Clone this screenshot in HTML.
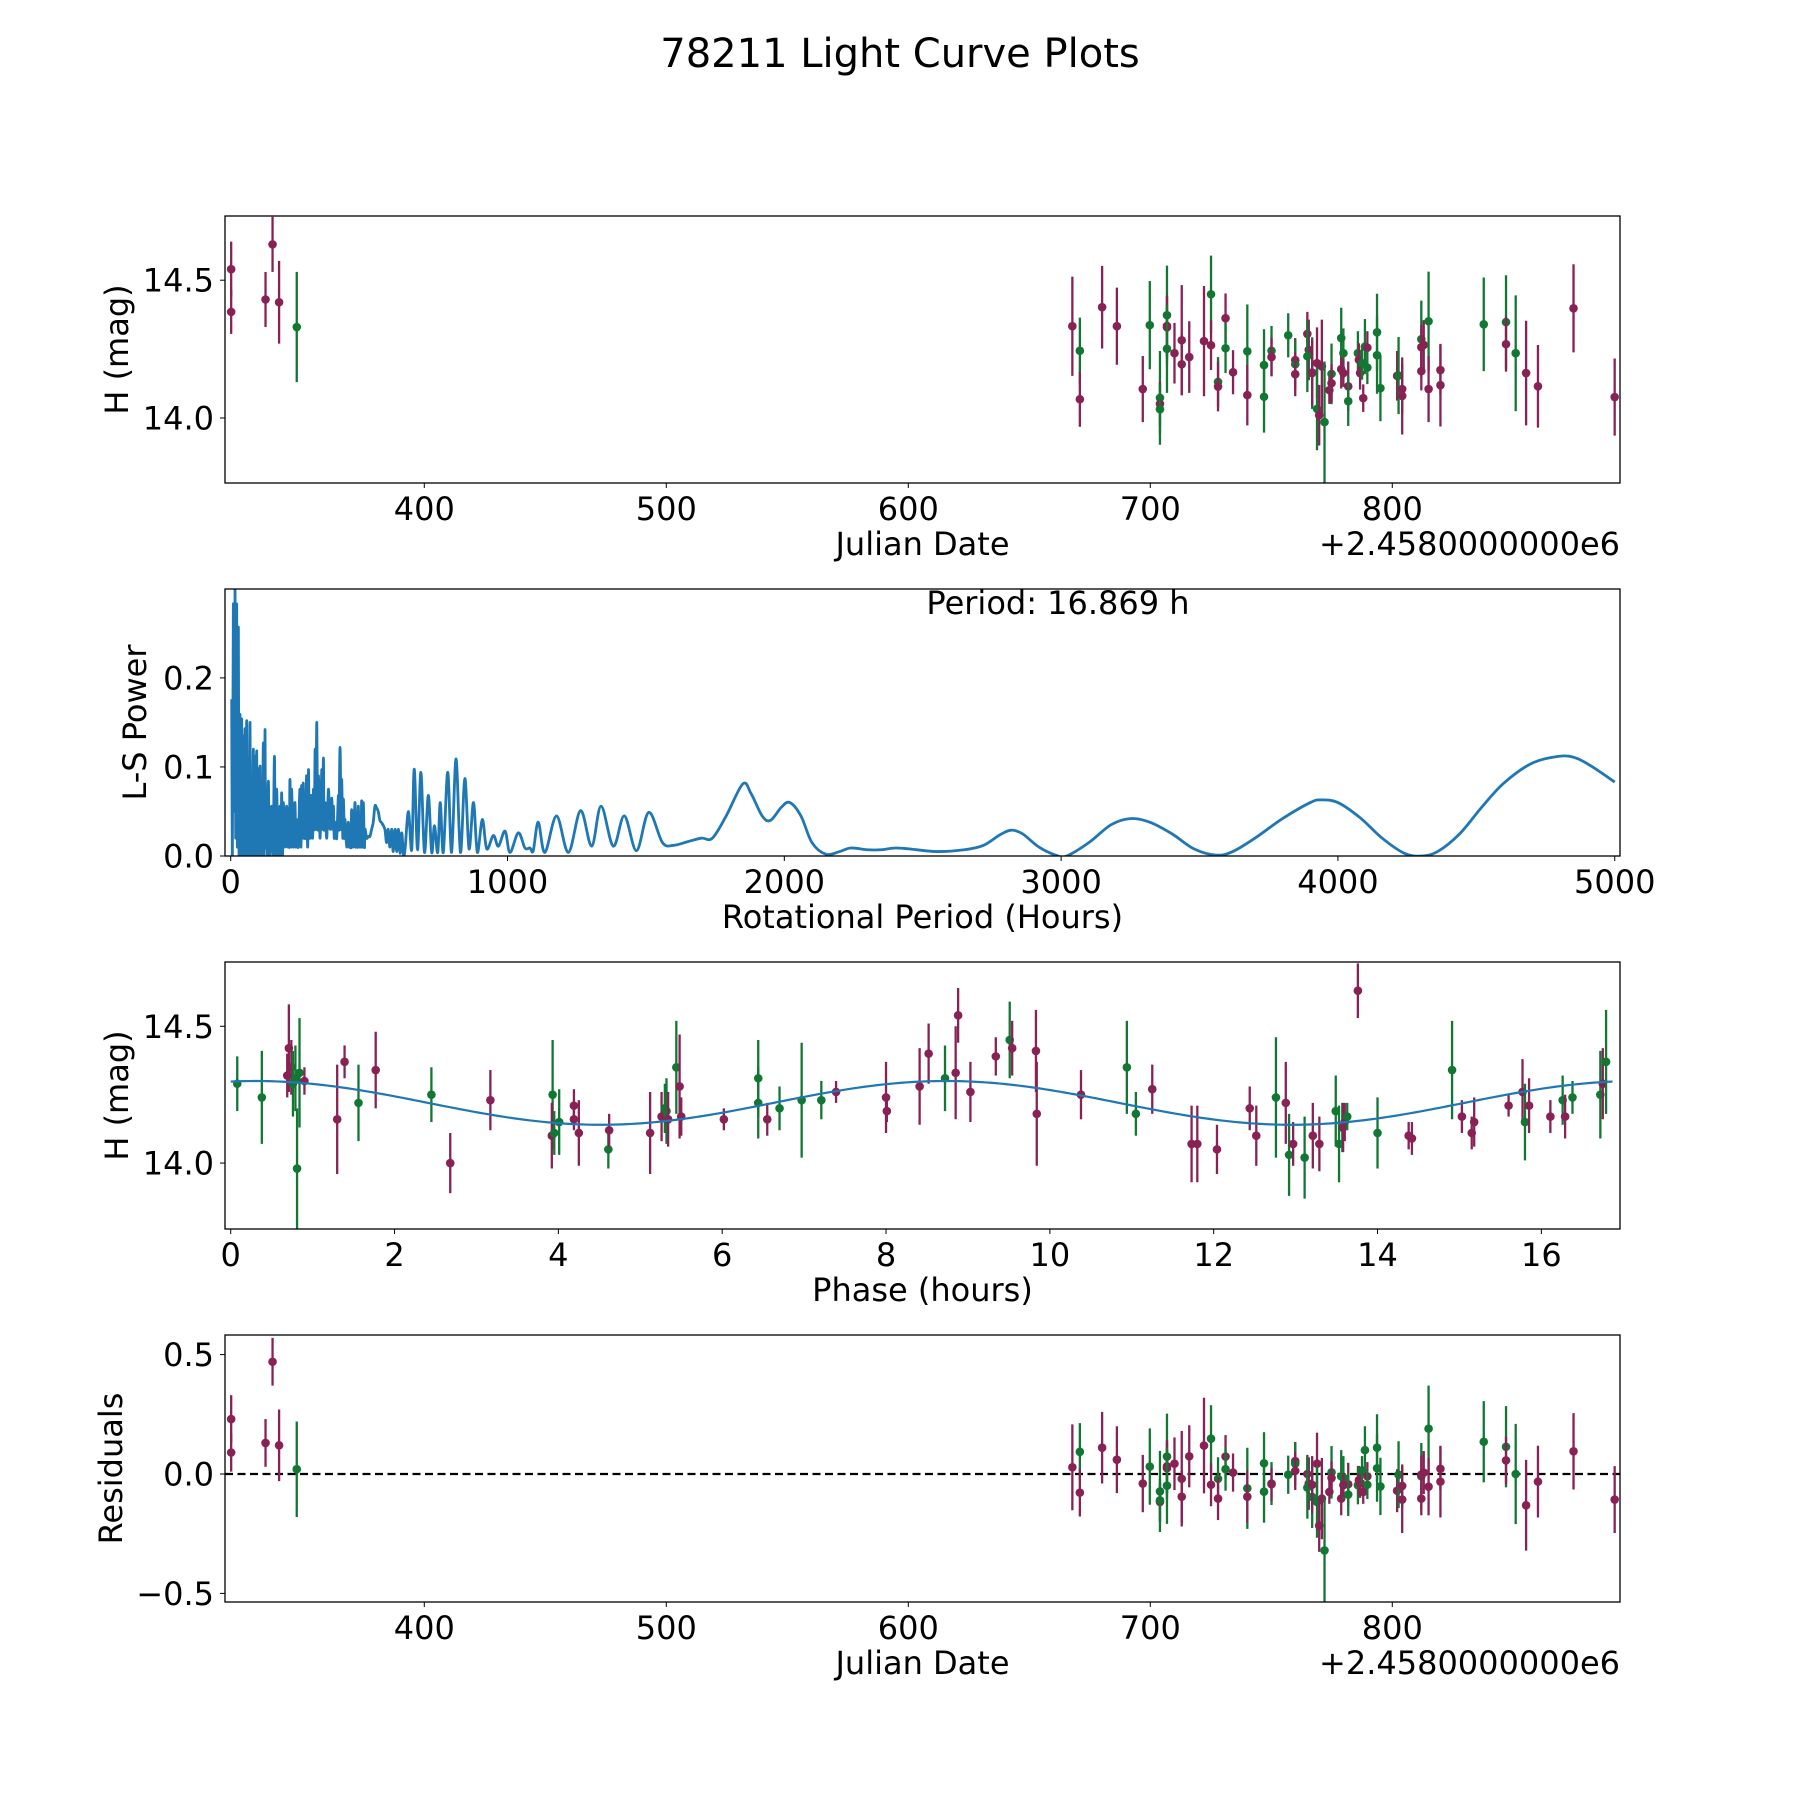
<!DOCTYPE html>
<html><head><meta charset="utf-8"><title>78211 Light Curve Plots</title>
<style>
html,body{margin:0;padding:0;background:#fff;}
svg{display:block;font-family:"DejaVu Sans","Liberation Sans",sans-serif;}
</style></head>
<body>
<svg id="fig" width="1800" height="1800" viewBox="0 0 1800 1800" xmlns="http://www.w3.org/2000/svg">
<rect x="0" y="0" width="1800" height="1800" fill="#fff"/>
<text x="900" y="67" font-size="40" text-anchor="middle" fill="#000">78211 Light Curve Plots</text>
</svg>
<script>
// ---------- Panel 1 / 4 data: observations ----------
const obsJD = [320.2,320.2,334.4,337.3,340,347.3,
667.8,670.9,670.9,680.1,686.2,696.9,699.8,704,704,704,706.9,706.9,706.9,706.9,710,713,713,716.1,722.2,725.1,725.1,728,728,731.1,731.1,734.2,740.1,740.1,747,747,750.1,750.1,757,759.9,759.9,759.9,764.9,765.5,764.9,766.9,766.9,768.9,768.9,769.8,770.9,772,774,774.9,774.9,778.9,778.9,779.8,779.8,781.8,781.8,785.8,786.2,786.7,787.5,788,788.7,789.7,789.7,793.7,793.7,795.1,802,802.6,804.1,804.1,812,812,813,812,815,815,819.9,819.9,837.8,847,847,851,855.3,860.2,874.9,891.9];
const obsMag = [14.54,14.385,14.43,14.63,14.42,14.33,
14.333,14.244,14.068,14.402,14.333,14.105,14.337,14.073,14.051,14.032,14.373,14.334,14.329,14.251,14.235,14.282,14.195,14.221,14.279,14.449,14.264,14.131,14.114,14.362,14.253,14.166,14.242,14.083,14.192,14.077,14.244,14.221,14.30,14.21,14.195,14.159,14.305,14.247,14.224,14.163,14.165,14.199,14.033,14.01,14.187,13.985,14.101,14.16,14.126,14.29,14.177,14.235,14.163,14.115,14.061,14.235,14.211,14.163,14.199,14.072,14.259,14.255,14.183,14.311,14.228,14.108,14.153,14.154,14.105,14.08,14.286,14.257,14.265,14.17,14.351,14.105,14.174,14.119,14.34,14.348,14.268,14.235,14.163,14.115,14.398,14.076];
const obsErr = [0.1,0.08,0.1,0.1,0.15,0.2,
0.18,0.12,0.10,0.15,0.14,0.12,0.16,0.17,0.08,0.09,0.18,0.11,0.11,0.16,0.11,0.2,0.11,0.13,0.2,0.14,0.09,0.09,0.09,0.09,0.09,0.08,0.17,0.11,0.13,0.13,0.09,0.07,0.08,0.08,0.09,0.08,0.08,0.11,0.13,0.13,0.12,0.13,0.15,0.11,0.17,0.22,0.05,0.11,0.07,0.11,0.07,0.09,0.05,0.09,0.09,0.08,0.06,0.06,0.06,0.05,0.1,0.06,0.06,0.14,0.14,0.12,0.09,0.14,0.09,0.14,0.14,0.08,0.09,0.07,0.18,0.12,0.09,0.15,0.17,0.17,0.1,0.21,0.19,0.15,0.16,0.14];
const obsBand = ["p","p","p","p","p","g",
"p","g","p","p","p","p","g","g","p","g","g","p","p","g","p","p","p","p","p","g","p","g","p","p","g","p","g","p","g","g","g","p","g","p","g","p","p","p","g","g","p","p","g","p","p","g","p","g","p","g","p","g","p","p","g","g","p","p","g","p","g","p","g","g","g","g","p","g","p","p","g","p","p","p","g","p","p","p","g","g","p","g","p","p","p","p"];
const obsResid = [0.23,0.09,0.13,0.47,0.12,0.02,
0.028,0.093,-0.078,0.11,0.06,-0.04,0.031,-0.073,-0.117,-0.11,0.073,0.032,0.024,-0.049,0.043,-0.02,-0.095,0.074,0.119,0.148,-0.045,-0.02,-0.103,0.073,0.02,0.006,-0.06,-0.095,0.045,-0.074,-0.04,-0.043,-0.003,0.054,0.043,0.013,0,-0.04,-0.057,-0.096,-0.045,0.043,-0.117,-0.216,-0.103,-0.32,-0.075,0.007,-0.017,-0.01,-0.103,-0.015,-0.047,-0.043,-0.086,-0.047,-0.026,-0.04,0.015,-0.075,0.1,-0.01,-0.045,0.11,0.024,-0.052,-0.07,-0.003,-0.05,-0.107,-0.01,-0.003,0.006,-0.103,0.19,-0.053,0.022,-0.032,0.135,0.114,0.057,0,-0.131,-0.032,0.095,-0.107];

// ---------- Panel 2 data: Lomb-Scargle periodogram ----------
const lsPeriod = [3.6,6,9.6,12,15.7,18,21.7,24,27.7,30,33.7,36,39.7,42,45.8,48,51.8,54,57.8,60,63.8,66,69.8,72,75.9,78,81.9,84,87.9,90,93.9,96,99.9,102,106,108,112,114,118,120,124,126,130,132,136,140,148,153,158,161,166,170,172,175,178,182,184,187,190,196,202,206,208,212,214,218,220,226,232,235,238,244,250,254,256,260,262,266,268,272,274,278,281,284,287,290,293,296,299,302,305,307,311,314,317,323,329,331,335,337,341,347,353,359,365,368,371,374,377,383,389,391,395,399,401,405,407,411,413,419,425,429,431,435,437,443,449,452,455,459,461,465,467,471,473,477,479,483,485,491,497,503,509,515,521,527,533,539,546,557,563,569,575,582,587,594,600,606,612,618,624,630,642,654,663,675,687,700,714,726,736,748,757,768,784,798,814,830,846,861,877,891,909,925,949,967,991,1009,1039,1063,1081,1093,1111,1135,1177,1220,1264,1304,1338,1382,1422,1466,1510,1560,1600,1650,1700,1740,1790,1850,1880,1920,1950,1990,2020,2060,2100,2150,2200,2240,2300,2350,2400,2450,2550,2650,2720,2780,2820,2860,2920,2980,3020,3100,3180,3250,3320,3400,3480,3560,3620,3700,3800,3900,3940,4000,4080,4160,4240,4300,4360,4440,4520,4600,4700,4800,4860,4920,5000];
const lsPower = [0.176,0,0.283,0.05,0.3,0.02,0.283,0.01,0.257,0,0.159,0,0.154,0,0.135,0,0.143,0,0.152,0,0.105,0,0.15,0,0.09,0,0.12,0,0.112,0,0.118,0,0.098,0,0.101,0,0.075,0,0.127,0,0.142,0.01,0.071,0,0.084,0,0.056,0,0.112,0,0.075,0,0.045,0,0.056,0,0.071,0,0.06,0.01,0.056,0.01,0.053,0.01,0.086,0.01,0.075,0.01,0.06,0.01,0.041,0.01,0.075,0.01,0.079,0.02,0.082,0.02,0.056,0.02,0.09,0.01,0.097,0.02,0.068,0.02,0.068,0.02,0.075,0.03,0.12,0.03,0.15,0.03,0.09,0.02,0.097,0.03,0.11,0.03,0.06,0.02,0.075,0.03,0.065,0.03,0.056,0.02,0.038,0.02,0.068,0.03,0.122,0.03,0.086,0.02,0.064,0.02,0.041,0.01,0.038,0.01,0.022,0.01,0.052,0.01,0.06,0.01,0.038,0.01,0.056,0.01,0.045,0.01,0.062,0.01,0.06,0.01,0.03,0.02,0.022,0.022,0.03,0.038,0.056,0.054,0.05,0.04,0.037,0.03,0.015,0.03,0.01,0.03,0.005,0.03,0.005,0.03,0.003,0.026,0.002,0.008,0.05,0.007,0.0975,0.007,0.094,0.004,0.068,0.004,0.034,0.004,0.06,0.004,0.094,0.004,0.109,0.004,0.087,0.008,0.06,0.004,0.041,0.008,0.023,0.011,0.028,0.004,0.026,0.009,0.009,0.006,0.038,0.004,0.045,0.004,0.051,0.011,0.056,0.011,0.045,0.006,0.049,0.015,0.012,0.016,0.02,0.02,0.045,0.081,0.07,0.045,0.04,0.055,0.06,0.045,0.015,0.002,0.005,0.009,0.007,0.007,0.009,0.008,0.005,0.007,0.012,0.024,0.029,0.025,0.01,0.001,0,0.015,0.035,0.042,0.038,0.025,0.008,0.001,0.005,0.02,0.042,0.06,0.063,0.06,0.043,0.02,0.003,0,0.005,0.025,0.055,0.082,0.104,0.112,0.11,0.1,0.083];
const bestPeriodLabel = "Period: 16.869 h";

// ---------- Panel 3 data: phased observations ----------
const phHours = [0.08,0.38,0.69,0.71,0.74,0.76,0.79,0.81,0.84,0.90,1.30,1.39,1.56,1.77,2.45,2.68,3.17,3.93,3.92,3.95,4.01,4.19,4.19,4.25,4.61,4.62,5.12,5.26,5.30,5.32,5.34,5.44,5.48,5.50,6.02,6.44,6.44,6.55,6.70,6.97,7.21,7.39,8.0,8.01,8.41,8.52,8.72,8.85,8.88,9.03,9.34,9.51,9.54,9.83,9.84,10.38,10.94,11.05,11.25,11.73,11.80,12.04,12.44,12.52,12.76,12.88,12.92,12.97,13.11,13.21,13.29,13.49,13.53,13.57,13.58,13.60,13.63,13.76,14.0,14.38,14.42,14.91,15.03,15.15,15.18,15.6,15.77,15.80,15.85,16.11,16.26,16.29,16.38,16.72,16.75,16.79];
const phMag = [14.29,14.24,14.32,14.42,14.35,14.29,14.31,13.98,14.33,14.30,14.16,14.37,14.22,14.34,14.25,14.0,14.23,14.25,14.10,14.11,14.15,14.21,14.16,14.11,14.05,14.12,14.11,14.17,14.20,14.19,14.16,14.35,14.28,14.17,14.16,14.31,14.22,14.16,14.20,14.23,14.23,14.26,14.24,14.19,14.28,14.40,14.31,14.33,14.54,14.26,14.39,14.45,14.42,14.41,14.18,14.25,14.35,14.18,14.27,14.07,14.07,14.05,14.20,14.10,14.24,14.22,14.03,14.07,14.02,14.10,14.07,14.19,14.07,14.13,14.13,14.15,14.17,14.63,14.11,14.10,14.09,14.34,14.17,14.11,14.15,14.21,14.26,14.15,14.21,14.17,14.23,14.17,14.24,14.25,14.29,14.37];
const phErr = [0.1,0.17,0.08,0.16,0.1,0.12,0.12,0.22,0.2,0.05,0.2,0.06,0.14,0.14,0.1,0.11,0.11,0.2,0.12,0.08,0.12,0.06,0.04,0.12,0.07,0.06,0.15,0.09,0.09,0.12,0.1,0.17,0.19,0.07,0.04,0.14,0.13,0.06,0.08,0.21,0.07,0.04,0.13,0.04,0.14,0.11,0.12,0.17,0.1,0.11,0.07,0.14,0.1,0.15,0.19,0.09,0.17,0.08,0.09,0.14,0.14,0.09,0.08,0.11,0.22,0.15,0.15,0.08,0.15,0.12,0.1,0.13,0.14,0.09,0.09,0.07,0.05,0.1,0.13,0.05,0.06,0.18,0.06,0.06,0.09,0.04,0.12,0.14,0.1,0.06,0.09,0.08,0.06,0.16,0.13,0.19];
const phBand = ["g","g","p","p","p","g","g","g","g","p","p","p","g","p","g","p","p","g","p","g","g","p","p","p","g","p","p","p","g","g","p","g","p","p","p","g","g","p","g","g","g","p","p","p","p","p","g","p","p","p","p","g","p","p","p","p","g","g","p","p","p","p","p","p","g","p","g","p","g","p","p","g","g","g","p","p","g","p","g","p","p","g","p","p","p","p","p","g","p","p","g","p","g","g","p","g"];
// fitted model (sinusoid, half the rotational period)
const modelMean = [14.22];
const modelAmp = [0.08];
const modelPeak = [0.3];
const rotPeriod = [16.869];

// ---------- Tick labels ----------
const jdTicks = [400,500,600,700,800];
const magTicks = [14.0,14.5];
const magTickLabels = ["14.0","14.5"];
const lsXTicks = [0,1000,2000,3000,4000,5000];
const lsYTicks = [0.0,0.1,0.2];
const lsYTickLabels = ["0.0","0.1","0.2"];
const phTicks = [0,2,4,6,8,10,12,14,16];
const resTicks = [-0.5,0.0,0.5];
const resTickLabels = ["\u22120.5","0.0","0.5"];

const NS = "http://www.w3.org/2000/svg";
const svg = document.getElementById('fig');
const PURPLE = "#882255", GREEN = "#117733", BLUE = "#1f77b4";
const L = 225, R = 1620;
const panels = {
  p1:{top:216,bot:483}, p2:{top:589,bot:856}, p3:{top:962,bot:1229}, p4:{top:1335,bot:1602}
};
function mk(tag, attrs, parent){
  const e = document.createElementNS(NS, tag);
  for (const k in attrs) e.setAttribute(k, attrs[k]);
  (parent||svg).appendChild(e);
  return e;
}
function scale(d0,d1,r0,r1){ return v => r0 + (v-d0)*(r1-r0)/(d1-d0); }

const xJD = scale(317.65, 894.1, L, R);
const y1 = scale(13.764, 14.733, panels.p1.bot, panels.p1.top);
const xLS = scale(-20.6, 5019, L, R);
const y2 = scale(0, 0.2998, panels.p2.bot, panels.p2.top);
const xPH = scale(-0.0696, 16.96, L, R);
const y3 = scale(13.759, 14.735, panels.p3.bot, panels.p3.top);
const y4 = scale(-0.536, 0.582, panels.p4.bot, panels.p4.top);

function frame(p, name){
  const g = mk('g', {});
  
  
  return g;
}
function border(g, p, name){
  const r = mk('rect', {x:L, y:p.top, width:R-L, height:p.bot-p.top, fill:'none', stroke:'#000', 'stroke-width':1.3}, g);
  
  
}
function xticks(g, p, vals, labels, xf, name){
  vals.forEach((v,i)=>{
    const x = xf(v);
    const t = mk('line', {x1:x, x2:x, y1:p.bot, y2:p.bot+5, stroke:'#000', 'stroke-width':1}, g);
    
    
    const tx = mk('text', {x:x, y:p.bot+37, 'font-size':32, 'text-anchor':'middle'}, g);
    tx.textContent = labels[i];
    
    
  });
}
function yticks(g, p, vals, labels, yf, name){
  vals.forEach((v,i)=>{
    const y = yf(v);
    const t = mk('line', {x1:L-5, x2:L, y1:y, y2:y, stroke:'#000', 'stroke-width':1}, g);
    
    
    const tx = mk('text', {x:L-11, y:y+11.5, 'font-size':32, 'text-anchor':'end'}, g);
    tx.textContent = labels[i];
    
    
  });
}
function label(g, txt, x, y, rot, name, anchor){
  const a = {x:x, y:y, 'font-size':32, 'text-anchor':anchor||'middle'};
  if (rot) a.transform = 'rotate(-90 '+x+' '+y+')';
  const t = mk('text', a, g);
  t.textContent = txt;
  
  
}
function errpoint(g, x, y, yTop, yBot, col, name){
  const ln = mk('line', {x1:x, x2:x, y1:yTop, y2:yBot, stroke:col, 'stroke-width':2.3}, g);
  
  
  const c = mk('circle', {cx:x, cy:y, r:4.3, fill:col}, g);
  
  
}
function clip(id, p){
  const d = mk('clipPath', {id:id});
  mk('rect', {x:L, y:p.top, width:R-L, height:p.bot-p.top}, d);
}
clip('c1', panels.p1); clip('c2', panels.p2); clip('c3', panels.p3); clip('c4', panels.p4);

// ===== Panel 1: light curve vs Julian date =====
{
  const p = panels.p1, g = frame(p, 'light-curve-panel');
  const pts = mk('g', {'clip-path':'url(#c1)'}, g);
  
  
  obsJD.forEach((jd,i)=>{
    const col = obsBand[i]==='g' ? GREEN : PURPLE;
    errpoint(pts, xJD(jd), y1(obsMag[i]), y1(obsMag[i]+obsErr[i]), y1(obsMag[i]-obsErr[i]), col, 'observation-point');
  });
  border(g, p, 'light-curve-axes-frame');
  xticks(g, p, jdTicks, jdTicks.map(String), xJD, 'julian-date-axis');
  yticks(g, p, magTicks, magTickLabels, y1, 'magnitude-axis');
  label(g, 'Julian Date', 922.5, p.bot+72, false, 'x-axis-title');
  label(g, '+2.4580000000e6', R, p.bot+72, false, 'x-axis-offset-text', 'end');
  label(g, 'H (mag)', 128, (p.top+p.bot)/2, true, 'y-axis-title');
}

// ===== Panel 2: periodogram =====
{
  const p = panels.p2, g = frame(p, 'periodogram-panel');
  const P = lsPeriod.map((per,i)=>[xLS(per), y2(lsPower[i])]);
  let d = 'M' + P[0][0].toFixed(2) + ' ' + P[0][1].toFixed(2) + ' ';
  for (let i=0;i<P.length-1;i++){
    const p0 = P[Math.max(0,i-1)], p1 = P[i], p2 = P[i+1], p3 = P[Math.min(P.length-1,i+2)];
    const c1x = p1[0] + (p2[0]-p0[0])/6, c1y = p1[1] + (p2[1]-p0[1])/6;
    const c2x = p2[0] - (p3[0]-p1[0])/6, c2y = p2[1] - (p3[1]-p1[1])/6;
    d += 'C' + c1x.toFixed(2)+' '+c1y.toFixed(2)+' '+c2x.toFixed(2)+' '+c2y.toFixed(2)+' '+p2[0].toFixed(2)+' '+p2[1].toFixed(2)+' ';
  }
  const path = mk('path', {d:d, fill:'none', stroke:BLUE, 'stroke-width':2.8, 'stroke-linejoin':'round', 'clip-path':'url(#c2)'}, g);
  
  
  border(g, p, 'periodogram-axes-frame');
  xticks(g, p, lsXTicks, lsXTicks.map(String), xLS, 'period-axis');
  yticks(g, p, lsYTicks, lsYTickLabels, y2, 'power-axis');
  label(g, 'Rotational Period (Hours)', 922.5, p.bot+72, false, 'x-axis-title');
  label(g, 'L-S Power', 146, (p.top+p.bot)/2, true, 'y-axis-title');
  label(g, bestPeriodLabel, 1058, 614, false, 'best-period-annotation');
}

// ===== Panel 3: phased light curve =====
{
  const p = panels.p3, g = frame(p, 'phased-curve-panel');
  const pts = mk('g', {'clip-path':'url(#c3)'}, g);
  
  
  phHours.forEach((ph,i)=>{
    const col = phBand[i]==='g' ? GREEN : PURPLE;
    errpoint(pts, xPH(ph), y3(phMag[i]), y3(phMag[i]+phErr[i]), y3(phMag[i]-phErr[i]), col, 'phased-point');
  });
  let d = '';
  const N = 300;
  for (let k=0;k<=N;k++){
    const ph = rotPeriod[0]*k/N;
    const m = modelMean[0] + modelAmp[0]*Math.cos(2*Math.PI*(ph-modelPeak[0])/(rotPeriod[0]/2));
    d += (k?'L':'M') + xPH(ph).toFixed(2) + ' ' + y3(m).toFixed(2) + ' ';
  }
  const path = mk('path', {d:d, fill:'none', stroke:BLUE, 'stroke-width':2.2}, g);
  
  
  border(g, p, 'phased-axes-frame');
  xticks(g, p, phTicks, phTicks.map(String), xPH, 'phase-axis');
  yticks(g, p, magTicks, magTickLabels, y3, 'magnitude-axis');
  label(g, 'Phase (hours)', 922.5, p.bot+72, false, 'x-axis-title');
  label(g, 'H (mag)', 128, (p.top+p.bot)/2, true, 'y-axis-title');
}

// ===== Panel 4: residuals =====
{
  const p = panels.p4, g = frame(p, 'residuals-panel');
  const z = mk('line', {x1:L, x2:R, y1:y4(0), y2:y4(0), stroke:'#000', 'stroke-width':2.2, 'stroke-dasharray':'8 4.5'}, g);
  
  
  const pts = mk('g', {'clip-path':'url(#c4)'}, g);
  
  
  obsJD.forEach((jd,i)=>{
    const col = obsBand[i]==='g' ? GREEN : PURPLE;
    errpoint(pts, xJD(jd), y4(obsResid[i]), y4(obsResid[i]+obsErr[i]), y4(obsResid[i]-obsErr[i]), col, 'residual-point');
  });
  border(g, p, 'residuals-axes-frame');
  xticks(g, p, jdTicks, jdTicks.map(String), xJD, 'julian-date-axis');
  yticks(g, p, resTicks, resTickLabels, y4, 'residual-axis');
  label(g, 'Julian Date', 922.5, p.bot+72, false, 'x-axis-title');
  label(g, '+2.4580000000e6', R, p.bot+72, false, 'x-axis-offset-text', 'end');
  label(g, 'Residuals', 122, (p.top+p.bot)/2, true, 'y-axis-title');
}
</script>
</body></html>
